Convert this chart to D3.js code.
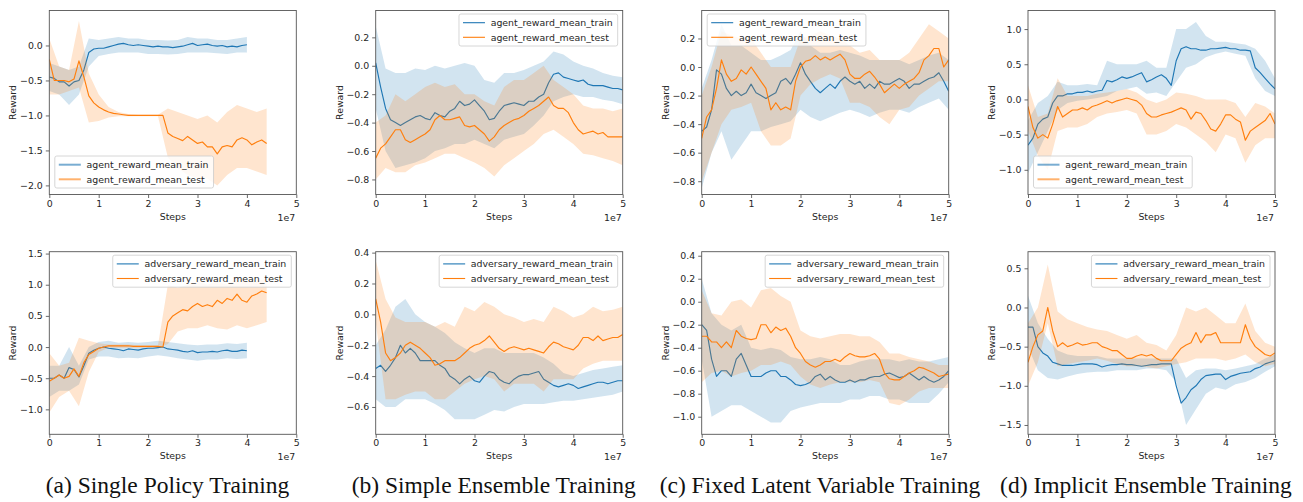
<!DOCTYPE html>
<html>
<head>
<meta charset="utf-8">
<title>Reward curves</title>
<style>
  body { margin: 0; background: #fff; }
  svg { display: block; }
  .tick text, .lab, .legend text { font-family: "DejaVu Sans", sans-serif; font-size: 9.4px; fill: #262626; }
  .caption { font-family: "Liberation Serif", "Times New Roman", serif; font-size: 23.5px; fill: #111; }
</style>
<script src="https://d3js.org/d3.v7.min.js"></script>
</head>
<body>
<svg width="1303" height="502"></svg>
<script>
// sample grids (env steps): mean every 1e6, band every 2e6
const stepsFine = d3.range(0, 51).map(i => i * 1e6);
const stepsBand = d3.range(0, 26).map(i => i * 2e6);
const xTicks = [0, 1e7, 2e7, 3e7, 4e7, 5e7];

// (a) single policy
const aAgentTrain = [-0.45,-0.47,-0.52,-0.52,-0.58,-0.52,-0.50,-0.35,-0.10,-0.05,
  -0.04,-0.04,-0.02,0.00,0.02,0.03,0.01,0.00,0.01,0.00,
  -0.01,-0.02,-0.01,-0.02,-0.02,-0.03,-0.02,-0.01,0.01,0.03,
  0.00,0.01,0.02,0.00,-0.01,0.00,-0.02,-0.01,-0.02,0.00,
  0.01];
const aAgentTrainLo = [-0.65,-0.70,-0.85,-0.70,-0.30,-0.15,-0.12,-0.10,-0.10,-0.10,-0.12,-0.12,-0.13,-0.12,-0.10,-0.10,-0.10,-0.11,-0.12,-0.10,-0.10];
const aAgentTrainHi = [-0.25,-0.30,-0.35,-0.30,0.10,0.08,0.10,0.12,0.10,0.10,0.08,0.08,0.07,0.08,0.12,0.10,0.10,0.08,0.08,0.10,0.12];
const aAgentTest = [-0.20,-0.50,-0.50,-0.50,-0.52,-0.48,-0.22,-0.45,-0.72,-0.82,
  -0.88,-0.92,-0.95,-0.97,-0.98,-0.99,-1.00,-1.00,-1.00,-1.00,
  -1.00,-1.00,-1.00,-1.00,-1.25,-1.30,-1.33,-1.36,-1.30,-1.35,
  -1.40,-1.38,-1.45,-1.45,-1.55,-1.45,-1.43,-1.45,-1.35,-1.32,
  -1.35,-1.42,-1.38,-1.35,-1.40];
const aAgentTestLo = [-0.70,-0.70,-0.65,-0.60,-1.10,-1.08,-1.03,-1.01,-1.01,-1.01,-1.01,-1.01,-1.60,-1.75,-1.85,-1.90,-1.90,-2.00,-1.85,-1.75,-1.75,-1.80,-1.85];
const aAgentTestHi = [0.10,-0.30,-0.35,0.35,-0.40,-0.70,-0.88,-0.95,-0.98,-0.99,-0.99,-0.99,-0.90,-0.95,-1.00,-1.05,-1.00,-1.10,-0.95,-0.85,-0.90,-0.95,-0.90];
const aAdvTrain = [-0.50,-0.50,-0.45,-0.50,-0.33,-0.36,-0.48,-0.30,-0.10,-0.05,
  -0.02,0.00,-0.02,-0.03,-0.04,-0.06,-0.03,-0.04,-0.05,-0.03,
  -0.02,-0.02,-0.01,0.00,-0.03,-0.04,-0.05,-0.07,-0.08,-0.06,
  -0.09,-0.08,-0.08,-0.07,-0.08,-0.06,-0.05,-0.07,-0.07,-0.05,
  -0.06];
const aAdvTrainLo = [-0.80,-0.70,-0.70,-0.60,-0.20,-0.15,-0.15,-0.18,-0.17,-0.18,-0.15,-0.13,-0.15,-0.18,-0.20,-0.22,-0.20,-0.20,-0.18,-0.19,-0.18];
const aAdvTrainHi = [-0.30,-0.30,0.00,-0.30,0.00,0.08,0.10,0.07,0.08,0.07,0.08,0.10,0.08,0.06,0.04,0.03,0.04,0.04,0.06,0.05,0.07];
const aAdvTest = [-0.55,-0.50,-0.45,-0.50,-0.47,-0.35,-0.47,-0.25,-0.12,-0.07,
  -0.02,0.00,0.02,0.02,0.02,0.02,0.02,0.01,0.01,0.01,
  0.01,0.01,0.01,0.00,0.40,0.50,0.55,0.60,0.58,0.65,
  0.70,0.65,0.68,0.65,0.75,0.70,0.78,0.75,0.85,0.75,
  0.72,0.82,0.85,0.90,0.87];
const aAdvTestLo = [-1.05,-0.80,-0.70,-0.95,-0.40,-0.08,-0.01,-0.01,-0.01,-0.01,-0.01,-0.01,0.05,0.25,0.30,0.30,0.35,0.30,0.28,0.35,0.30,0.35,0.40];
const aAdvTestHi = [-0.10,-0.30,-0.25,0.15,0.10,0.06,0.04,0.04,0.04,0.03,0.03,0.03,1.00,0.95,1.00,1.05,1.00,1.05,1.00,1.10,1.05,1.05,1.10];

// (b) simple ensemble
const bAgentTrain = [0.02,-0.15,-0.30,-0.38,-0.40,-0.42,-0.40,-0.38,-0.36,-0.35,
  -0.37,-0.38,-0.33,-0.35,-0.36,-0.32,-0.30,-0.25,-0.28,-0.27,
  -0.24,-0.28,-0.32,-0.38,-0.37,-0.32,-0.28,-0.27,-0.26,-0.27,
  -0.28,-0.25,-0.25,-0.22,-0.20,-0.12,-0.06,-0.05,-0.08,-0.09,
  -0.10,-0.11,-0.10,-0.13,-0.14,-0.14,-0.14,-0.15,-0.16,-0.16,
  -0.17];
const bAgentTrainLo = [-0.30,-0.60,-0.72,-0.70,-0.68,-0.65,-0.60,-0.58,-0.55,-0.55,-0.52,-0.55,-0.58,-0.52,-0.50,-0.48,-0.42,-0.35,-0.25,-0.22,-0.20,-0.22,-0.22,-0.24,-0.25,-0.27];
const bAgentTrainHi = [0.28,-0.02,-0.05,-0.05,-0.02,-0.03,0.00,-0.02,0.00,0.02,0.00,-0.10,-0.12,-0.05,-0.05,-0.03,0.00,0.03,0.10,0.08,0.03,0.00,-0.02,-0.05,-0.07,-0.08];
const bAgentTest = [-0.65,-0.58,-0.55,-0.50,-0.45,-0.45,-0.52,-0.54,-0.52,-0.50,
  -0.48,-0.45,-0.38,-0.35,-0.38,-0.38,-0.37,-0.36,-0.42,-0.43,
  -0.42,-0.45,-0.48,-0.53,-0.50,-0.45,-0.42,-0.40,-0.38,-0.37,
  -0.35,-0.32,-0.30,-0.28,-0.25,-0.22,-0.28,-0.30,-0.30,-0.33,
  -0.40,-0.45,-0.48,-0.47,-0.46,-0.48,-0.47,-0.50,-0.50,-0.50,
  -0.50];
const bAgentTestLo = [-0.80,-0.72,-0.75,-0.75,-0.70,-0.68,-0.65,-0.62,-0.62,-0.65,-0.68,-0.72,-0.78,-0.70,-0.65,-0.60,-0.55,-0.48,-0.45,-0.50,-0.55,-0.62,-0.63,-0.65,-0.67,-0.70];
const bAgentTestHi = [-0.40,-0.35,-0.20,-0.25,-0.20,-0.15,-0.12,-0.15,-0.13,-0.20,-0.20,-0.25,-0.28,-0.15,-0.10,-0.10,-0.05,0.00,-0.10,-0.15,-0.20,-0.28,-0.30,-0.30,-0.32,-0.30];
const bAdvTrain = [-0.35,-0.33,-0.37,-0.33,-0.28,-0.20,-0.25,-0.22,-0.25,-0.30,
  -0.30,-0.30,-0.30,-0.33,-0.35,-0.40,-0.42,-0.45,-0.42,-0.40,
  -0.43,-0.44,-0.40,-0.37,-0.38,-0.42,-0.44,-0.45,-0.42,-0.40,
  -0.39,-0.39,-0.38,-0.37,-0.42,-0.44,-0.46,-0.47,-0.46,-0.45,
  -0.46,-0.48,-0.47,-0.46,-0.45,-0.44,-0.44,-0.45,-0.44,-0.43,
  -0.43];
const bAdvTrainLo = [-0.55,-0.60,-0.60,-0.55,-0.55,-0.55,-0.58,-0.62,-0.68,-0.68,-0.68,-0.65,-0.62,-0.63,-0.60,-0.58,-0.58,-0.58,-0.57,-0.56,-0.56,-0.55,-0.54,-0.53,-0.52,-0.50];
const bAdvTrainHi = [-0.20,-0.10,0.05,0.10,0.00,-0.05,-0.08,-0.12,-0.18,-0.22,-0.25,-0.22,-0.22,-0.25,-0.25,-0.25,-0.25,-0.28,-0.32,-0.38,-0.40,-0.38,-0.36,-0.35,-0.34,-0.33];
const bAdvTest = [0.10,-0.05,-0.25,-0.30,-0.28,-0.25,-0.20,-0.18,-0.20,-0.22,
  -0.25,-0.28,-0.33,-0.32,-0.30,-0.30,-0.30,-0.28,-0.25,-0.22,
  -0.20,-0.19,-0.17,-0.14,-0.18,-0.22,-0.24,-0.22,-0.21,-0.22,
  -0.23,-0.22,-0.23,-0.24,-0.25,-0.21,-0.18,-0.19,-0.21,-0.22,
  -0.23,-0.20,-0.15,-0.15,-0.17,-0.14,-0.17,-0.16,-0.15,-0.15,
  -0.13];
const bAdvTestLo = [-0.05,-0.55,-0.55,-0.52,-0.50,-0.50,-0.55,-0.55,-0.50,-0.45,-0.42,-0.40,-0.42,-0.50,-0.45,-0.45,-0.45,-0.50,-0.42,-0.42,-0.42,-0.35,-0.32,-0.30,-0.30,-0.30];
const bAdvTestHi = [0.35,0.10,-0.02,-0.05,-0.05,-0.05,-0.08,-0.05,-0.08,0.05,0.02,0.08,0.05,0.00,-0.02,-0.05,-0.03,-0.05,0.05,0.02,-0.02,0.00,0.05,0.02,0.03,0.05];

// (c) fixed latent variable
const cAgentTrain = [-0.45,-0.42,-0.30,-0.02,-0.05,-0.15,-0.20,-0.17,-0.20,-0.18,
  -0.12,-0.18,-0.20,-0.22,-0.20,-0.18,-0.10,-0.08,-0.12,-0.05,
  0.03,-0.05,-0.10,-0.15,-0.18,-0.15,-0.12,-0.15,-0.10,-0.07,
  -0.10,-0.12,-0.10,-0.15,-0.12,-0.15,-0.10,-0.12,-0.12,-0.10,
  -0.08,-0.10,-0.15,-0.12,-0.12,-0.10,-0.08,-0.07,-0.04,-0.10,
  -0.17];
const cAgentTrainLo = [-0.85,-0.60,-0.45,-0.65,-0.55,-0.45,-0.45,-0.42,-0.40,-0.38,-0.30,-0.35,-0.38,-0.35,-0.32,-0.30,-0.32,-0.35,-0.32,-0.30,-0.30,-0.32,-0.28,-0.25,-0.22,-0.30];
const cAgentTrainHi = [-0.15,0.05,0.30,0.15,0.15,0.10,0.05,0.05,0.08,0.12,0.25,0.15,0.10,0.10,0.12,0.10,0.08,0.05,0.05,0.05,0.05,0.02,0.05,0.08,0.10,0.05];
const cAgentTest = [-0.50,-0.35,-0.30,-0.15,0.05,-0.05,-0.10,-0.08,-0.02,-0.05,
  0.00,-0.05,-0.10,-0.15,-0.30,-0.25,-0.30,-0.28,-0.30,-0.10,
  0.00,0.04,0.05,0.08,0.05,0.07,0.05,0.07,0.09,0.05,
  -0.05,-0.08,-0.08,-0.05,-0.03,-0.07,-0.12,-0.18,-0.15,-0.12,
  -0.15,-0.12,-0.10,-0.08,-0.04,0.05,0.08,0.13,0.13,0.00,
  0.05];
const cAgentTestLo = [-0.80,-0.60,-0.40,-0.30,-0.28,-0.25,-0.45,-0.55,-0.55,-0.50,-0.20,-0.12,-0.08,-0.05,-0.08,-0.25,-0.25,-0.28,-0.35,-0.40,-0.30,-0.28,-0.20,-0.15,-0.10,-0.10];
const cAgentTestHi = [-0.20,0.00,0.25,0.22,0.20,0.20,0.10,0.00,0.00,0.00,0.20,0.22,0.25,0.22,0.20,0.15,0.10,0.12,0.05,0.05,0.05,0.10,0.20,0.30,0.25,0.20];
const cAdvTrain = [-0.20,-0.25,-0.50,-0.65,-0.60,-0.60,-0.65,-0.50,-0.45,-0.55,
  -0.65,-0.65,-0.65,-0.62,-0.60,-0.60,-0.65,-0.65,-0.68,-0.72,
  -0.73,-0.72,-0.70,-0.65,-0.63,-0.68,-0.65,-0.68,-0.70,-0.70,
  -0.68,-0.70,-0.68,-0.68,-0.66,-0.65,-0.65,-0.63,-0.62,-0.64,
  -0.66,-0.65,-0.62,-0.65,-0.68,-0.65,-0.68,-0.70,-0.68,-0.65,
  -0.60];
const cAdvTrainLo = [-0.50,-1.00,-0.95,-0.90,-0.90,-0.95,-1.00,-1.05,-1.05,-0.95,-0.92,-0.90,-0.88,-0.88,-0.88,-0.85,-0.85,-0.82,-0.82,-0.85,-0.85,-0.88,-0.88,-0.88,-0.80,-0.70];
const cAdvTrainHi = [0.20,-0.10,-0.20,-0.25,-0.20,-0.40,-0.42,-0.40,-0.42,-0.48,-0.50,-0.50,-0.48,-0.50,-0.55,-0.55,-0.52,-0.50,-0.50,-0.50,-0.52,-0.50,-0.52,-0.52,-0.50,-0.48];
const cAdvTest = [-0.30,-0.30,-0.35,-0.35,-0.40,-0.35,-0.40,-0.25,-0.30,-0.32,
  -0.33,-0.32,-0.20,-0.20,-0.27,-0.22,-0.25,-0.23,-0.30,-0.40,
  -0.45,-0.52,-0.55,-0.57,-0.55,-0.52,-0.52,-0.50,-0.52,-0.48,
  -0.45,-0.47,-0.48,-0.48,-0.47,-0.45,-0.50,-0.62,-0.67,-0.68,
  -0.68,-0.65,-0.62,-0.60,-0.57,-0.58,-0.60,-0.62,-0.65,-0.64,
  -0.63];
const cAdvTestLo = [-0.70,-0.62,-0.60,-0.65,-0.62,-0.60,-0.55,-0.55,-0.52,-0.55,-0.65,-0.72,-0.75,-0.72,-0.70,-0.70,-0.70,-0.68,-0.70,-0.88,-0.90,-0.85,-0.78,-0.75,-0.75,-0.75];
const cAdvTestHi = [0.10,-0.10,-0.12,0.00,0.02,-0.05,0.10,0.12,0.05,0.00,-0.25,-0.30,-0.32,-0.30,-0.28,-0.28,-0.30,-0.30,-0.35,-0.45,-0.45,-0.48,-0.50,-0.52,-0.55,-0.55];

// (d) implicit ensemble
const dAgentTrain = [-0.65,-0.55,-0.35,-0.28,-0.25,-0.05,0.05,0.05,0.08,0.08,
  0.10,0.10,0.12,0.10,0.12,0.13,0.27,0.25,0.28,0.32,
  0.30,0.32,0.35,0.38,0.25,0.28,0.32,0.35,0.30,0.20,
  0.55,0.72,0.75,0.72,0.72,0.70,0.70,0.72,0.72,0.73,
  0.74,0.72,0.72,0.70,0.70,0.69,0.45,0.38,0.30,0.22,
  0.15];
const dAgentTrainLo = [-1.05,-0.75,-0.45,-0.15,-0.05,-0.02,0.00,0.02,0.05,0.12,0.15,0.18,0.08,0.10,0.05,0.25,0.45,0.50,0.60,0.65,0.68,0.65,0.62,0.30,0.12,0.05];
const dAgentTrainHi = [-0.30,-0.05,0.05,0.25,0.20,0.20,0.22,0.20,0.55,0.50,0.50,0.50,0.55,0.45,0.45,1.00,1.00,1.10,0.90,0.82,0.82,0.80,0.78,0.72,0.55,0.30];
const dAgentTest = [-0.10,-0.40,-0.55,-0.50,-0.55,-0.35,-0.10,-0.25,-0.20,-0.15,
  -0.15,-0.12,-0.15,-0.10,-0.08,-0.05,-0.02,-0.05,-0.02,0.00,
  0.02,0.00,-0.02,-0.08,-0.20,-0.25,-0.25,-0.22,-0.20,-0.18,
  -0.15,-0.12,-0.15,-0.28,-0.18,-0.20,-0.30,-0.42,-0.45,-0.35,
  -0.22,-0.22,-0.28,-0.32,-0.58,-0.45,-0.40,-0.35,-0.30,-0.20,
  -0.35];
const dAgentTestLo = [-0.45,-0.80,-1.00,-0.45,-0.40,-0.40,-0.35,-0.25,-0.20,-0.18,-0.15,-0.20,-0.50,-0.50,-0.45,-0.35,-0.40,-0.50,-0.60,-0.75,-0.50,-0.55,-0.90,-0.65,-0.55,-0.55];
const dAgentTestHi = [0.20,-0.25,-0.20,0.30,0.05,0.05,0.05,0.08,0.10,0.12,0.15,0.10,0.00,-0.05,0.00,0.10,0.08,0.05,0.00,0.00,0.00,-0.05,-0.25,-0.05,-0.10,-0.20];
const dAdvTrain = [-0.25,-0.25,-0.50,-0.58,-0.62,-0.70,-0.72,-0.74,-0.74,-0.74,
  -0.73,-0.72,-0.72,-0.72,-0.73,-0.76,-0.74,-0.73,-0.73,-0.72,
  -0.73,-0.73,-0.74,-0.75,-0.74,-0.73,-0.73,-0.72,-0.72,-0.72,
  -1.00,-1.22,-1.15,-1.05,-1.00,-0.92,-0.87,-0.86,-0.85,-0.85,
  -0.92,-0.88,-0.86,-0.84,-0.83,-0.82,-0.78,-0.76,-0.72,-0.70,
  -0.68];
const dAdvTrainLo = [-0.50,-0.80,-0.90,-0.92,-0.88,-0.85,-0.83,-0.82,-0.82,-0.80,-0.80,-0.80,-0.78,-0.78,-0.80,-0.95,-1.50,-1.30,-1.10,-1.02,-1.05,-0.98,-0.95,-0.90,-0.82,-0.75];
const dAdvTrainHi = [0.15,-0.20,-0.40,-0.55,-0.60,-0.62,-0.62,-0.62,-0.65,-0.65,-0.65,-0.65,-0.65,-0.65,-0.65,-0.65,-0.90,-0.80,-0.78,-0.78,-0.80,-0.78,-0.75,-0.72,-0.65,-0.60];
const dAdvTest = [-0.70,-0.50,-0.35,-0.30,0.00,-0.30,-0.50,-0.45,-0.50,-0.48,
  -0.45,-0.48,-0.47,-0.45,-0.45,-0.50,-0.52,-0.55,-0.55,-0.60,
  -0.65,-0.65,-0.62,-0.60,-0.62,-0.60,-0.65,-0.68,-0.68,-0.68,
  -0.60,-0.52,-0.48,-0.45,-0.32,-0.45,-0.35,-0.35,-0.32,-0.45,
  -0.45,-0.45,-0.45,-0.45,-0.22,-0.40,-0.50,-0.55,-0.60,-0.62,
  -0.58];
const dAdvTestLo = [-1.00,-0.70,-0.20,-0.75,-0.72,-0.70,-0.68,-0.65,-0.68,-0.72,-0.75,-0.75,-0.76,-0.78,-0.75,-0.72,-0.70,-0.65,-0.65,-0.65,-0.68,-0.65,-0.60,-0.70,-0.75,-0.72];
const dAdvTestHi = [-0.20,0.00,0.55,-0.05,-0.15,-0.20,-0.25,-0.28,-0.30,-0.35,-0.40,-0.35,-0.45,-0.48,-0.55,-0.35,0.00,-0.05,0.00,-0.10,-0.20,-0.20,0.05,-0.30,-0.45,-0.50];

// y tick labels per panel
const ticksTopA = [-2, -1.5, -1, -0.5, 0];
const ticksBotA = [-1, -0.5, 0, 0.5, 1, 1.5];
const ticksTopB = [-0.8, -0.6, -0.4, -0.2, 0, 0.2];
const ticksBotB = [-0.6, -0.4, -0.2, 0, 0.2, 0.4];
const ticksTopC = [-0.8, -0.6, -0.4, -0.2, 0, 0.2];
const ticksBotC = [-1, -0.8, -0.6, -0.4, -0.2, 0, 0.2, 0.4];
const ticksTopD = [-1, -0.5, 0, 0.5, 1];
const ticksBotD = [-1.5, -1, -0.5, 0, 0.5];

const agentLabels = ["agent_reward_mean_train", "agent_reward_mean_test"];
const advLabels = ["adversary_reward_mean_train", "adversary_reward_mean_test"];
const captions = ["(a) Single Policy Training", "(b) Simple Ensemble Training", "(c) Fixed Latent Variable Training", "(d) Implicit Ensemble Training"];

const ser = (mean, lo, hi) => ({mean, lo, hi});
const panels = [
  {col: 0, row: 0, dom: [-2.13, 0.5], ticks: ticksTopA, leg: "ll", thick: true, labels: agentLabels,
   train: ser(aAgentTrain, aAgentTrainLo, aAgentTrainHi), test: ser(aAgentTest, aAgentTestLo, aAgentTestHi)},
  {col: 0, row: 1, dom: [-1.40, 1.53], ticks: ticksBotA, leg: "ur", labels: advLabels,
   train: ser(aAdvTrain, aAdvTrainLo, aAdvTrainHi), test: ser(aAdvTest, aAdvTestLo, aAdvTestHi)},
  {col: 1, row: 0, dom: [-0.906, 0.389], ticks: ticksTopB, leg: "ur", labels: agentLabels,
   train: ser(bAgentTrain, bAgentTrainLo, bAgentTrainHi), test: ser(bAgentTest, bAgentTestLo, bAgentTestHi)},
  {col: 1, row: 1, dom: [-0.777, 0.406], ticks: ticksBotB, leg: "ur", labels: advLabels,
   train: ser(bAdvTrain, bAdvTrainLo, bAdvTrainHi), test: ser(bAdvTest, bAdvTestLo, bAdvTestHi)},
  {col: 2, row: 0, dom: [-0.893, 0.396], ticks: ticksTopC, leg: "ul", labels: agentLabels,
   train: ser(cAgentTrain, cAgentTrainLo, cAgentTrainHi), test: ser(cAgentTest, cAgentTestLo, cAgentTestHi)},
  {col: 2, row: 1, dom: [-1.153, 0.435], ticks: ticksBotC, leg: "ur", labels: advLabels,
   train: ser(cAdvTrain, cAdvTrainLo, cAdvTrainHi), test: ser(cAdvTest, cAdvTestLo, cAdvTestHi)},
  {col: 3, row: 0, dom: [-1.351, 1.264], ticks: ticksTopD, leg: "ll", thick: true, labels: agentLabels,
   train: ser(dAgentTrain, dAgentTrainLo, dAgentTrainHi), test: ser(dAgentTest, dAgentTestLo, dAgentTestHi)},
  {col: 3, row: 1, dom: [-1.619, 0.712], ticks: ticksBotD, leg: "ur", labels: advLabels,
   train: ser(dAdvTrain, dAdvTrainLo, dAdvTrainHi), test: ser(dAdvTest, dAdvTestLo, dAdvTestHi)}
];

const colLeft = [49.3, 375.7, 701.7, 1028];
const W = 247;
const rowTop = [10.5, 251.7];
const rowH = [184, 182.6];
const captionX = [167.5, 493.7, 820, 1146];
const blue = "#1f77b4", orange = "#ff7f0e";

const svg = d3.select("svg");
const x = d3.scaleLinear().domain([0, 5e7]).range([0, W]);

panels.forEach((p, k) => {
  const h = rowH[p.row];
  const g = svg.append("g").attr("transform", `translate(${colLeft[p.col]},${rowTop[p.row]})`);
  const y = d3.scaleLinear().domain(p.dom).range([h, 0]);

  g.append("clipPath").attr("id", "clip" + k)
    .append("rect").attr("width", W).attr("height", h);
  const plot = g.append("g").attr("clip-path", `url(#clip${k})`);

  const area = d3.area().x(d => x(d.x)).y0(d => y(d.lo)).y1(d => y(d.hi));
  const line = d3.line().x(d => x(d[0])).y(d => y(d[1]));

  [[p.train, blue], [p.test, orange]].forEach(([s, c]) => {
    const band = s.lo.map((v, i) => ({x: stepsBand[i], lo: v, hi: s.hi[i]}));
    plot.append("path").datum(band)
      .attr("fill", c).attr("fill-opacity", 0.2)
      .attr("d", area);
    plot.append("path").datum(s.mean.map((v, i) => [stepsFine[i], v]))
      .attr("fill", "none").attr("stroke", c).attr("stroke-width", 1.15)
      .attr("stroke-linejoin", "round")
      .attr("d", line);
  });

  // axes
  const xa = g.append("g").attr("transform", `translate(0,${h})`)
    .call(d3.axisBottom(x).tickValues(xTicks).tickFormat(d => d / 1e7)
      .tickSize(3.5).tickPadding(2).tickSizeOuter(0));
  const ya = g.append("g")
    .call(d3.axisLeft(y).tickValues(p.ticks).tickFormat(d3.format(".1f"))
      .tickSize(3.5).tickPadding(3).tickSizeOuter(0));
  [xa, ya].forEach(a => {
    a.select(".domain").remove();
    a.selectAll(".tick line").attr("stroke", "#444").attr("stroke-width", 0.8);
    a.selectAll(".tick text").attr("font-family", null).attr("font-size", null).attr("fill", null);
  });

  g.append("rect").attr("width", W).attr("height", h)
    .attr("fill", "none").attr("stroke", "#555").attr("stroke-width", 0.9);

  g.append("text").attr("class", "lab")
    .attr("transform", `translate(-36.5,${h / 2}) rotate(-90)`)
    .attr("text-anchor", "middle").attr("dominant-baseline", "central")
    .text("Reward");
  g.append("text").attr("class", "lab")
    .attr("x", W / 2).attr("y", h + 25).attr("text-anchor", "middle")
    .text("Steps");
  g.append("text").attr("class", "lab")
    .attr("x", W - 1).attr("y", h + 26).attr("text-anchor", "end")
    .text("1e7");

  // legend
  const lg = g.append("g").attr("class", "legend");
  const box = lg.append("rect");
  let tw = 0;
  p.labels.forEach((t, i) => {
    const txt = lg.append("text").attr("x", 31.7).attr("y", 8.7 + i * 14.6)
      .attr("dominant-baseline", "central").text(t);
    tw = Math.max(tw, txt.node().getComputedTextLength());
    lg.append("line").attr("x1", 4).attr("x2", 26)
      .attr("y1", 8.7 + i * 14.6).attr("y2", 8.7 + i * 14.6)
      .attr("stroke", i ? orange : blue)
      .attr("stroke-width", p.thick ? 2 : 1.1)
      .attr("stroke-opacity", p.thick ? 0.6 : 1);
  });
  const bw = 31.7 + tw + 5, bh = 32;
  box.attr("width", bw).attr("height", bh).attr("rx", 2)
    .attr("fill", "#fff").attr("fill-opacity", 0.8)
    .attr("stroke", "#ccc").attr("stroke-width", 0.8);
  let bx, by;
  if (p.leg === "ur") { bx = W - 5 - bw; by = 3.5; }
  else if (p.leg === "ul") { bx = 5.5; by = 3.5; }
  else { bx = 5.5; by = h - 6.5 - bh; }
  lg.attr("transform", `translate(${bx},${by})`);
});

captions.forEach((c, i) => {
  svg.append("text").attr("class", "caption")
    .attr("x", captionX[i]).attr("y", 493).attr("text-anchor", "middle")
    .text(c);
});
</script>
</body>
</html>
